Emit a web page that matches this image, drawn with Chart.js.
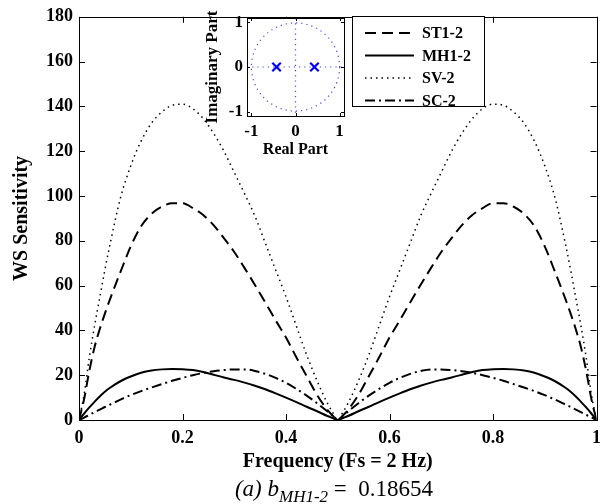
<!DOCTYPE html>
<html>
<head>
<meta charset="utf-8">
<script src="https://cdn.jsdelivr.net/npm/chart.js@4.4.1/dist/chart.umd.min.js"></script>
<style>
  html, body { margin: 0; padding: 0; background: #fff; }
  #wrap { position: relative; width: 609px; height: 504px; }
  #mainChart { position: absolute; left: 0; top: 0; }
  #poleChart { position: absolute; left: 195px; top: 0; }
</style>
</head>
<body>
<div id="wrap">
  <canvas id="mainChart" width="609" height="504"></canvas>
  <canvas id="poleChart" width="160" height="162"></canvas>
</div>
<script>
// frequency grid (normalised, Fs = 2 Hz)
const freq = [0, 0.01, 0.02, 0.03, 0.04, 0.05, 0.06, 0.08, 0.10, 0.12, 0.14, 0.16, 0.18, 0.20,
  0.22, 0.24, 0.26, 0.28, 0.30, 0.32, 0.34, 0.36, 0.38, 0.40, 0.42, 0.44, 0.46, 0.48, 0.49, 0.50,
  0.51, 0.52, 0.54, 0.56, 0.58, 0.60, 0.62, 0.64, 0.66, 0.68, 0.70, 0.72, 0.74, 0.76, 0.78, 0.80,
  0.82, 0.84, 0.86, 0.88, 0.90, 0.92, 0.94, 0.95, 0.96, 0.97, 0.98, 0.99, 1.00];

const st12 = [0, 9.5, 22, 32.5, 40.5, 47.5, 54, 66, 77.5, 86.5, 92, 95.2, 96.8, 96.8,
  94.6, 91.5, 87, 81.2, 75, 67.8, 60.3, 52.5, 44.5, 36.8, 28, 19.5, 11.2, 4.5, 2, 0,
  2, 4.5, 11.2, 19.5, 28, 36.8, 44.5, 52.5, 60.3, 67.8, 75, 81.2, 87, 91.5, 94.6, 96.8,
  96.8, 95.2, 92, 86.5, 77.5, 66, 54, 47.5, 40.5, 32.5, 22, 9.5, 0];

const mh12 = [0, 2.9, 5.6, 8.1, 10.5, 12.6, 14.4, 17.3, 19.4, 21.1, 22.1, 22.6, 22.8, 22.7,
  22.3, 21.4, 20.2, 19, 17.9, 16.7, 15.3, 13.7, 11.9, 10, 8, 5.9, 3.9, 1.8, 0.9, 0,
  0.9, 1.8, 3.9, 5.9, 8, 10, 11.9, 13.7, 15.3, 16.7, 17.9, 19, 20.2, 21.4, 22.3, 22.7,
  22.8, 22.6, 22.1, 21.1, 19.4, 17.3, 14.4, 12.6, 10.5, 8.1, 5.6, 2.9, 0];

const sv2 = [0, 11.5, 28, 42, 54.5, 67, 78.5, 99, 113.5, 124.5, 132.5, 137.5, 140.5, 141,
  139, 134.5, 128, 120, 110.5, 101, 91, 79, 67, 55, 42, 29, 17.5, 7.5, 3.5, 0,
  3.5, 7.5, 17.5, 29, 42, 55, 67, 79, 91, 101, 110.5, 120, 128, 134.5, 139, 141,
  140.5, 137.5, 132.5, 124.5, 113.5, 99, 78.5, 67, 54.5, 42, 28, 11.5, 0];

const sc2 = [0, 1.1, 2.3, 3.5, 4.6, 5.8, 6.9, 9.1, 11.1, 12.9, 14.5, 16, 17.5, 18.8,
  20, 21, 21.8, 22.3, 22.6, 22.6, 21.9, 20.6, 18.8, 16.6, 13.9, 10.9, 7.5, 3.8, 1.9, 0,
  1.9, 3.8, 7.5, 10.9, 13.9, 16.6, 18.8, 20.6, 21.9, 22.6, 22.6, 22.3, 21.8, 21, 20, 18.8,
  17.5, 16, 14.5, 12.9, 11.1, 9.1, 6.9, 5.8, 4.6, 3.5, 2.3, 1.1, 0];

const seriesNames = ["ST1-2", "MH1-2", "SV-2", "SC-2"];

// poles of the filter (real axis)
const poleRe = [-0.43, 0.43];
const poleIm = [0, 0];

const serif = "'Liberation Serif', 'Times New Roman', serif";
Chart.defaults.font.family = serif;
Chart.defaults.color = "#000";

function series(vals) {
  return freq.map((f, i) => ({ x: f, y: vals[i] }));
}

function lineSet(label, vals, dash, width) {
  return {
    label: label,
    data: series(vals),
    borderColor: "#000",
    borderWidth: width,
    borderDash: dash,
    pointRadius: 0,
    cubicInterpolationMode: "monotone",
    fill: false
  };
}

// box around the axes with inward ticks, matlab style
const axesBox = {
  id: "axesBox",
  afterDatasetsDraw(chart) {
    const { ctx, chartArea: a, scales } = chart;
    const len = chart.options.plugins.axesBox.tick;
    ctx.save();
    ctx.strokeStyle = "#000";
    ctx.lineWidth = 1;
    ctx.setLineDash([]);
    ctx.beginPath();
    scales.x.ticks.forEach(t => {
      const px = Math.round(scales.x.getPixelForValue(t.value)) + 0.5;
      ctx.moveTo(px, a.bottom); ctx.lineTo(px, a.bottom - len);
      ctx.moveTo(px, a.top); ctx.lineTo(px, a.top + len);
    });
    scales.y.ticks.forEach(t => {
      const py = Math.round(scales.y.getPixelForValue(t.value)) + 0.5;
      ctx.moveTo(a.left, py); ctx.lineTo(a.left + len, py);
      ctx.moveTo(a.right, py); ctx.lineTo(a.right - len, py);
    });
    ctx.stroke();
    ctx.strokeRect(Math.round(a.left) + 0.5, Math.round(a.top) + 0.5,
      Math.round(a.right - a.left), Math.round(a.bottom - a.top));
    ctx.restore();
  }
};

// legend box in the upper part of the plot
const boxLegend = {
  id: "boxLegend",
  afterDraw(chart) {
    const { ctx } = chart;
    const o = chart.options.plugins.boxLegend;
    ctx.save();
    ctx.fillStyle = "#fff";
    ctx.fillRect(o.x, o.y, o.w, o.h);
    ctx.strokeStyle = "#000";
    ctx.lineWidth = 1;
    ctx.setLineDash([]);
    ctx.strokeRect(o.x + 0.5, o.y + 0.5, o.w, o.h);
    ctx.font = "bold 16px " + serif;
    ctx.textBaseline = "middle";
    ctx.fillStyle = "#000";
    chart.data.datasets.forEach((ds, i) => {
      const y = o.y + o.first + i * o.step;
      ctx.beginPath();
      ctx.lineWidth = ds.borderWidth;
      ctx.setLineDash(ds.borderDash || []);
      ctx.moveTo(o.x + 13, y);
      ctx.lineTo(o.x + 62, y);
      ctx.stroke();
      ctx.setLineDash([]);
      ctx.fillText(ds.label, o.x + 70, y + 1);
    });
    ctx.restore();
  }
};

// caption under the axis title
const caption = {
  id: "caption",
  afterDraw(chart) {
    const { ctx } = chart;
    const parts = [
      { t: "(a) b", f: "italic 23px " + serif, dy: 0 },
      { t: "MH1-2", f: "italic 17px " + serif, dy: 6 },
      { t: " =  0.18654", f: "23px " + serif, dy: 0 }
    ];
    ctx.save();
    ctx.fillStyle = "#000";
    ctx.textBaseline = "alphabetic";
    let total = 0;
    parts.forEach(p => { ctx.font = p.f; p.w = ctx.measureText(p.t).width; total += p.w; });
    let x = 334 - total / 2;
    parts.forEach(p => {
      ctx.font = p.f;
      ctx.fillText(p.t, x, 496 + p.dy);
      x += p.w;
    });
    ctx.restore();
  }
};

const mainChart = new Chart(document.getElementById("mainChart").getContext("2d"), {
  type: "line",
  data: {
    datasets: [
      lineSet(seriesNames[0], st12, [11, 6], 2),
      lineSet(seriesNames[1], mh12, [], 2),
      lineSet(seriesNames[2], sv2, [1.5, 4], 1.5),
      lineSet(seriesNames[3], sc2, [10, 4, 2, 4], 2)
    ]
  },
  options: {
    responsive: false,
    animation: false,
    layout: { padding: { left: 0, right: 12, top: 14, bottom: 0 } },
    plugins: {
      legend: { display: false },
      tooltip: { enabled: false },
      axesBox: { tick: 6 },
      boxLegend: { x: 352, y: 16, w: 132, h: 90, first: 17, step: 22.5 }
    },
    scales: {
      x: {
        type: "linear",
        min: 0,
        max: 1,
        afterFit(s) { s.height = 84; },
        grid: { display: false, drawTicks: false },
        border: { display: false },
        ticks: {
          stepSize: 0.2,
          maxRotation: 0,
          autoSkip: false,
          padding: 8,
          font: { size: 18, weight: "bold" },
          callback: v => String(Math.round(v * 10) / 10)
        },
        title: {
          display: true,
          text: "Frequency (Fs = 2 Hz)",
          font: { size: 20, weight: "bold" },
          padding: { top: 0, bottom: 30 }
        }
      },
      y: {
        min: 0,
        max: 180,
        afterFit(s) { s.width = 79; },
        grid: { display: false, drawTicks: false },
        border: { display: false },
        ticks: {
          stepSize: 20,
          padding: 6,
          font: { size: 18, weight: "bold" }
        },
        title: {
          display: true,
          text: "WS Sensitivity",
          font: { size: 20, weight: "bold" },
          padding: { top: 10, bottom: 0 }
        }
      }
    }
  },
  plugins: [axesBox, boxLegend, caption]
});

// pole-zero inset: unit circle and axis guides drawn through the scales
const unitCircle = {
  id: "unitCircle",
  beforeDatasetsDraw(chart) {
    const { ctx, chartArea: a, scales: { x, y } } = chart;
    ctx.save();
    ctx.fillStyle = "#fff";
    ctx.fillRect(a.left, a.top, a.right - a.left, a.bottom - a.top);
    ctx.strokeStyle = "rgba(40, 40, 255, 0.85)";
    ctx.lineWidth = 1.2;
    ctx.setLineDash([1.2, 4]);
    const cx = x.getPixelForValue(0), cy = y.getPixelForValue(0);
    const r = x.getPixelForValue(1) - cx;
    ctx.beginPath();
    ctx.arc(cx, cy, r, 0, Math.PI * 2);
    ctx.stroke();
    ctx.beginPath();
    ctx.moveTo(a.left, cy); ctx.lineTo(a.right, cy);
    ctx.moveTo(cx, a.top); ctx.lineTo(cx, a.bottom);
    ctx.stroke();
    ctx.restore();
  }
};

const poleTicks = s => { s.ticks = [-1, 0, 1].map(v => ({ value: v })); };

const poleChart = new Chart(document.getElementById("poleChart").getContext("2d"), {
  type: "scatter",
  data: {
    datasets: [{
      label: "poles",
      data: poleRe.map((re, i) => ({ x: re, y: poleIm[i] })),
      pointStyle: "crossRot",
      pointRadius: 6,
      borderWidth: 2.2,
      borderColor: "#0000ff",
      backgroundColor: "#0000ff"
    }]
  },
  options: {
    responsive: false,
    animation: false,
    layout: { padding: { left: 0, right: 11, top: 18, bottom: 0 } },
    plugins: {
      legend: { display: false },
      tooltip: { enabled: false },
      axesBox: { tick: 3 }
    },
    scales: {
      x: {
        type: "linear",
        min: -1.1,
        max: 1.1,
        afterBuildTicks: poleTicks,
        afterFit(s) { s.height = 46; },
        grid: { display: false, drawTicks: false },
        border: { display: false },
        ticks: { padding: 5, maxRotation: 0, autoSkip: false, font: { size: 17, weight: "bold" } },
        title: {
          display: true,
          text: "Real Part",
          font: { size: 16, weight: "bold" },
          padding: { top: 0, bottom: 3 }
        }
      },
      y: {
        min: -1.1,
        max: 1.1,
        afterBuildTicks: poleTicks,
        afterFit(s) { s.width = 52; },
        grid: { display: false, drawTicks: false },
        border: { display: false },
        ticks: { padding: 4, autoSkip: false, font: { size: 17, weight: "bold" } },
        title: {
          display: true,
          text: "Imaginary Part",
          font: { size: 17, weight: "bold" },
          padding: { top: 7, bottom: 0 }
        }
      }
    }
  },
  plugins: [unitCircle, axesBox]
});
</script>
</body>
</html>
